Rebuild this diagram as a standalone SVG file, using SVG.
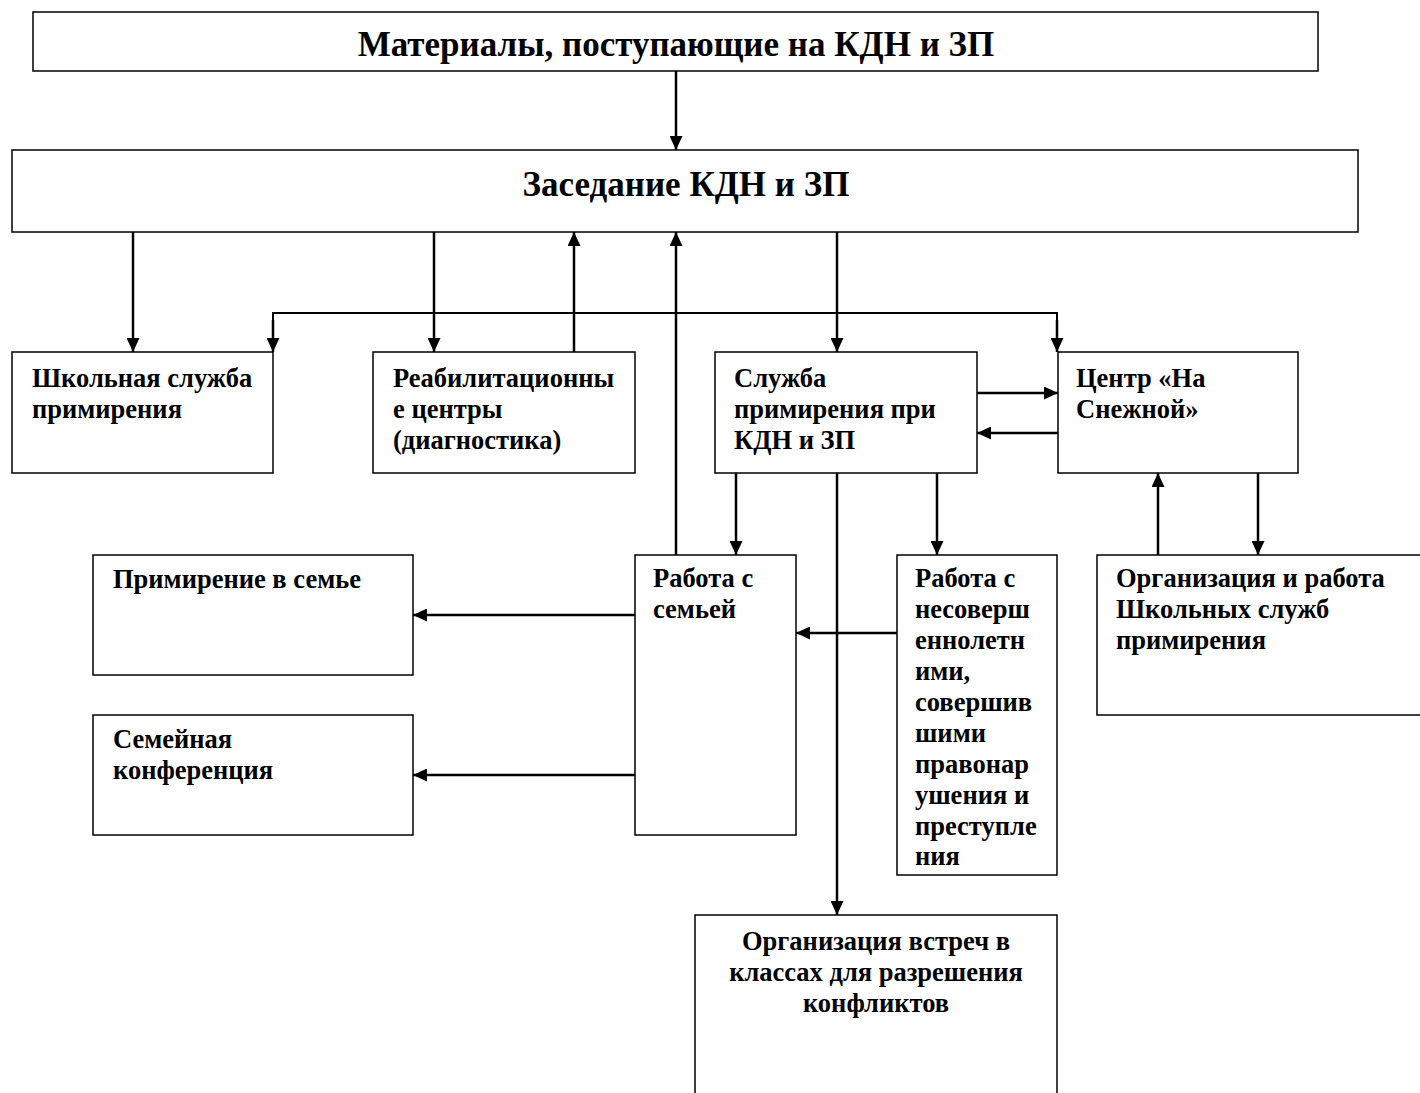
<svg xmlns="http://www.w3.org/2000/svg" width="1420" height="1093" viewBox="0 0 1420 1093">
<style>
.box{fill:#fff;stroke:#000;stroke-width:1.5}
.t{font-family:"Liberation Serif","Times New Roman",serif;font-weight:bold;font-size:26.5px;fill:#000}
.h{font-size:35px}
.c{stroke:#000;stroke-width:2.5;fill:none}
</style>
<defs>
<marker id="a" viewBox="0 0 10 10" refX="10" refY="5" markerWidth="5.6" markerHeight="5.2" orient="auto" markerUnits="strokeWidth" preserveAspectRatio="none">
<path d="M0,0 L10,5 L0,10 Z" fill="#000"/>
</marker>
</defs>
<rect width="1420" height="1093" fill="#fff"/>
<g id="n1"><rect class="box" x="33" y="12" width="1285" height="59"/><text class="t h" x="676" y="56" text-anchor="middle">Материалы, поступающие на КДН и ЗП</text></g>
<g id="n2"><rect class="box" x="12" y="150" width="1346" height="82"/><text class="t h" x="686" y="196" text-anchor="middle">Заседание КДН и ЗП</text></g>
<g id="n3"><rect class="box" x="12" y="352" width="261" height="121"/><text class="t" x="32" y="387">Школьная служба</text><text class="t" x="32" y="418">примирения</text></g>
<g id="n4"><rect class="box" x="373" y="352" width="262" height="121"/><text class="t" x="393" y="387">Реабилитационны</text><text class="t" x="393" y="418">е центры</text><text class="t" x="393" y="449">(диагностика)</text></g>
<g id="n5"><rect class="box" x="715" y="352" width="262" height="121"/><text class="t" x="734" y="387">Служба</text><text class="t" x="734" y="418">примирения при</text><text class="t" x="734" y="449">КДН и  ЗП</text></g>
<g id="n6"><rect class="box" x="1058" y="352" width="240" height="121"/><text class="t" x="1076" y="387">Центр «На</text><text class="t" x="1076" y="418">Снежной»</text></g>
<g id="n7"><rect class="box" x="93" y="555" width="320" height="120"/><text class="t" x="113" y="588">Примирение в семье</text></g>
<g id="n8"><rect class="box" x="93" y="715" width="320" height="120"/><text class="t" x="113" y="748">Семейная</text><text class="t" x="113" y="779">конференция</text></g>
<g id="n9"><rect class="box" x="635" y="555" width="161" height="280"/><text class="t" x="653" y="587">Работа с</text><text class="t" x="653" y="618">семьей</text></g>
<g id="n10"><rect class="box" x="897" y="555" width="160" height="320"/>
<text class="t" x="915" y="587">Работа с</text><text class="t" x="915" y="618">несоверш</text><text class="t" x="915" y="649">еннолетн</text><text class="t" x="915" y="680">ими,</text><text class="t" x="915" y="711">совершив</text><text class="t" x="915" y="742">шими</text><text class="t" x="915" y="773">правонар</text><text class="t" x="915" y="804">ушения и</text><text class="t" x="915" y="835">преступле</text><text class="t" x="915" y="865">ния</text></g>
<g id="n11"><rect class="box" x="1097" y="555" width="330" height="160"/><text class="t" x="1116" y="587">Организация и работа</text><text class="t" x="1116" y="618">Школьных служб</text><text class="t" x="1116" y="649">примирения</text></g>
<g id="n12"><rect class="box" x="695" y="915" width="362" height="190"/><text class="t" x="876" y="950" text-anchor="middle">Организация встреч в</text><text class="t" x="876" y="981" text-anchor="middle">классах для разрешения</text><text class="t" x="876" y="1012" text-anchor="middle">конфликтов</text></g>
<g id="connectors">
<line class="c" x1="676" y1="71" x2="676" y2="150" marker-end="url(#a)"/>
<line class="c" x1="133" y1="232" x2="133" y2="352" marker-end="url(#a)"/>
<line class="c" x1="434" y1="232" x2="434" y2="352" marker-end="url(#a)"/>
<line class="c" x1="574" y1="352" x2="574" y2="232" marker-end="url(#a)"/>
<line class="c" x1="676" y1="555" x2="676" y2="232" marker-end="url(#a)"/>
<line class="c" x1="837" y1="232" x2="837" y2="352" marker-end="url(#a)"/>
<polyline class="c" style="stroke-width:2" points="273,340 273,313 1057,313 1057,340"/>
<line class="c" x1="273" y1="320" x2="273" y2="352" marker-end="url(#a)"/>
<line class="c" x1="1057" y1="320" x2="1057" y2="352" marker-end="url(#a)"/>
<line class="c" x1="977" y1="393" x2="1058" y2="393" marker-end="url(#a)"/>
<line class="c" x1="1058" y1="433" x2="977" y2="433" marker-end="url(#a)"/>
<line class="c" x1="736" y1="473" x2="736" y2="555" marker-end="url(#a)"/>
<line class="c" x1="837" y1="473" x2="837" y2="915" marker-end="url(#a)"/>
<line class="c" x1="937" y1="473" x2="937" y2="555" marker-end="url(#a)"/>
<line class="c" x1="635" y1="615" x2="413" y2="615" marker-end="url(#a)"/>
<line class="c" x1="635" y1="775" x2="413" y2="775" marker-end="url(#a)"/>
<line class="c" x1="897" y1="633" x2="796" y2="633" marker-end="url(#a)"/>
<line class="c" x1="1158" y1="555" x2="1158" y2="473" marker-end="url(#a)"/>
<line class="c" x1="1258" y1="473" x2="1258" y2="555" marker-end="url(#a)"/>
</g>
</svg>
